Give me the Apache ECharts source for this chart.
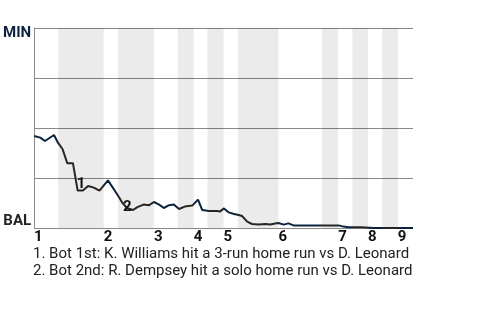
<!DOCTYPE html>
<html>
<head>
<meta charset="utf-8">
<script src="https://cdn.jsdelivr.net/npm/echarts@6/dist/echarts.min.js"></script>
<style>html,body{margin:0;padding:0;background:#fff}#c{width:480px;height:320px}</style>
</head>
<body>
<div id="c"></div>
<script>
// Innings (x axis in plate-appearance units)
const innings = ['1','2','3','4','5','6','7','8','9'];
const inningStart = [0, 14.7, 25.3, 33.7, 40, 51.6, 64.2, 70.5, 76.8];
const bottomStart = [5.1, 17.7, 30.3, 36.6, 43, 60.8, 67.2, 73.5];
const bottomEnd   = [14.7, 25.3, 33.7, 40, 51.6, 64.2, 70.5, 76.8];
const xMax = 80;

// Win probability (100 = MIN, 0 = BAL)
const playX = [0, 1.3, 2.3, 4.2, 5.1, 6.0, 7.0, 8.2, 9.2, 10.3, 11.4, 12.6, 13.8, 15.6, 17.5, 18.7, 19.6, 20.9, 21.8, 23.1, 24.3, 25.3, 26.4, 27.4, 28.5, 29.5, 30.6, 31.8, 33.4, 34.6, 35.5, 36.9, 38.7, 39.2, 40.1, 41.1, 42.2, 43.2, 43.9, 45.0, 46.0, 47.4, 48.8, 49.9, 50.9, 51.6, 52.7, 53.7, 54.8, 60.8, 61.1, 62.2, 64.3, 65.3, 66.4, 69.2, 71.6, 80];
const winProb = [46, 45.2, 43.5, 46.5, 42.4, 39.5, 32.4, 32.4, 18.7, 18.7, 21, 20.2, 18.7, 23.8, 17, 12.4, 10, 9, 10.4, 11.7, 11.4, 13, 11.7, 10, 11.4, 11.7, 9.5, 10.7, 11.2, 14.2, 9, 8.5, 8.5, 8.2, 9.8, 7.8, 7, 6.5, 6, 3.2, 2, 1.8, 2, 1.7, 2.2, 2.5, 1.7, 2.3, 1.3, 1.3, 0.7, 1.3, 1.3, 0.7, 0.4, 0.4, 0, 0];

// Annotations
const noteLabels = ['1', '2'];
const noteX = [9.9, 19.7];
const noteY = [22, 10.5];
const notes = [
  '1. Bot 1st: K. Williams hit a 3-run home run vs D. Leonard',
  '2. Bot 2nd: R. Dempsey hit a solo home run vs D. Leonard'
];
const teamTop = 'MIN', teamBottom = 'BAL';

const NAVY = '#0c2340', DARK = '#27251f';

const pieces = [];
for (let i = 0; i < innings.length; i++) {
  const topEnd = i < bottomStart.length ? bottomStart[i] : xMax + 1;
  pieces.push({ gte: inningStart[i], lt: topEnd, color: NAVY });
  if (i < bottomStart.length) pieces.push({ gte: bottomStart[i], lt: bottomEnd[i], color: DARK });
}
const bands = bottomStart.map((s, i) => [{ xAxis: s }, { xAxis: bottomEnd[i] }]);

const chart = echarts.init(document.getElementById('c'), null, { renderer: 'canvas' });
chart.setOption({
  animation: false,
  textStyle: { fontFamily: 'Roboto' },
  title: {
    text: notes.join('\n'),
    left: 33, top: 246, padding: 0,
    textStyle: { fontSize: 15, fontWeight: 'normal', color: '#222', lineHeight: 17, fontFamily: 'Roboto' }
  },
  grid: { left: 33, right: 67, top: 28, bottom: 92 },
  visualMap: { show: false, type: 'piecewise', dimension: 0, pieces: pieces, seriesIndex: 0 },
  xAxis: {
    type: 'value', min: 0, max: xMax,
    axisLine: { show: false }, axisTick: { show: false }, splitLine: { show: false },
    axisLabel: {
      customValues: inningStart,
      formatter: v => { const i = inningStart.indexOf(v); return i >= 0 ? innings[i] : ''; },
      align: 'left', margin: 2,
      fontSize: 15, fontWeight: 'bold', color: '#111', fontFamily: 'Roboto'
    }
  },
  yAxis: {
    type: 'value', min: 0, max: 100, interval: 25,
    axisLine: { show: true, lineStyle: { color: '#888', width: 1 } },
    axisTick: { show: false },
    splitLine: { show: true, lineStyle: { color: '#888', width: 1 } },
    axisLabel: {
      margin: 3,
      formatter: v => v === 100 ? '{t|' + teamTop + '}' : (v === 0 ? '{b|' + teamBottom + '}' : ''),
      rich: {
        t: { fontSize: 15, fontWeight: 'bold', color: NAVY, fontFamily: 'Roboto', padding: [11, 0, 0, 0] },
        b: { fontSize: 15, fontWeight: 'bold', color: '#222', fontFamily: 'Roboto', padding: [0, 0, 13, 0] }
      }
    }
  },
  series: [{
    type: 'line',
    data: playX.map((x, i) => [x, winProb[i]]),
    symbol: 'none',
    lineStyle: { width: 2 },
    z: 3,
    markArea: { silent: true, itemStyle: { color: 'rgba(0,0,0,0.08)' }, data: bands },
    markPoint: {
      symbol: 'circle', symbolSize: 0,
      label: { show: true, position: 'inside', fontSize: 15, fontWeight: 'bold', color: '#111', fontFamily: 'Roboto', formatter: p => p.name },
      data: noteLabels.map((n, i) => ({ name: n, coord: [noteX[i], noteY[i]] }))
    }
  }]
});
</script>
</body>
</html>
